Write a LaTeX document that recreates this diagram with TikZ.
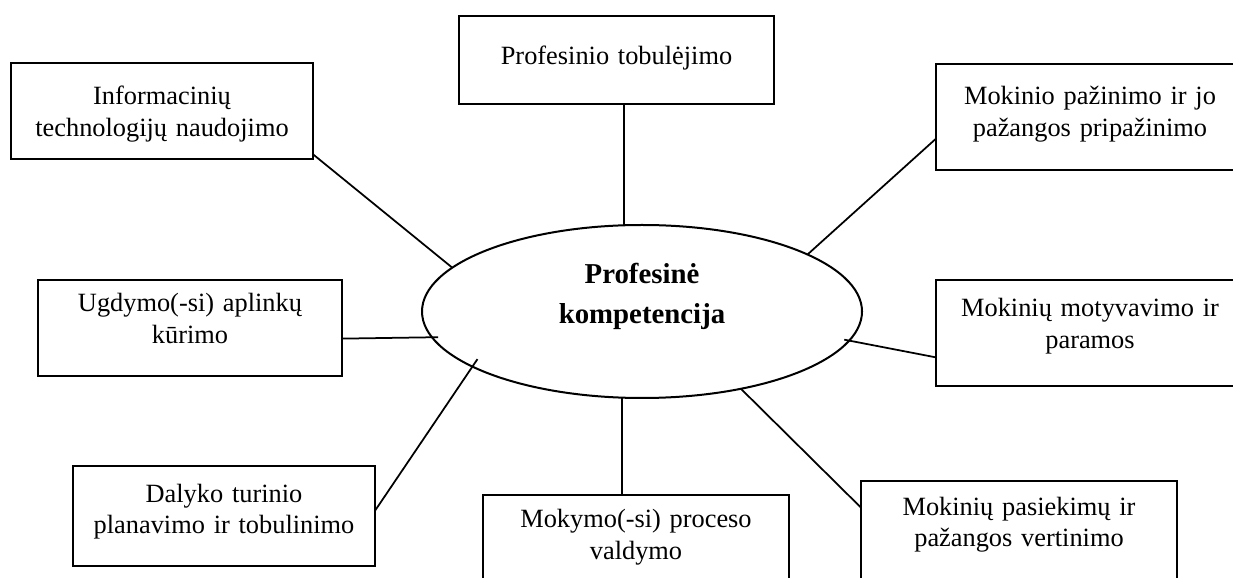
\documentclass[tikz,border=0pt]{standalone}
\usepackage{fontspec}
\setmainfont{Liberation Serif}
\usepackage{tikz}
\usetikzlibrary{shapes.geometric}

\tikzset{
  compbox/.style={rectangle,draw,line width=0.5mm,inner sep=0pt,outer sep=0pt,
    align=center,anchor=north west,font=\fontsize{15}{18.2}\selectfont},
  link/.style={line width=0.35mm},
}

\begin{document}
\begin{tikzpicture}
\useasboundingbox (0,0) rectangle (24.66,-11.56);

% centre
\node[ellipse,draw,line width=0.4mm,inner sep=0pt,outer sep=0pt,
  minimum width=8.8cm,minimum height=3.46cm,text width=4cm,align=center,
  text height=0.4cm,text depth=1.52cm,
  font=\fontsize{16.4}{22.8}\selectfont\bfseries] (core) at (12.84,-6.23)
  {Profesinė\\kompetencija};

% competence areas
\node[compbox,text width=6.3cm,text height=0.98cm,text depth=0.78cm] (prof) at (9.18,-0.32)
  {Profesinio tobulėjimo};
\node[compbox,text width=6.04cm,text height=0.84cm,text depth=1.08cm] (info) at (0.22,-1.26)
  {Informacinių\\technologijų naudojimo};
\node[compbox,text width=6.16cm,text height=0.82cm,text depth=1.3cm] (pazin) at (18.72,-1.28)
  {Mokinio pažinimo ir jo\\pažangos pripažinimo};
\node[compbox,text width=6.08cm,text height=0.64cm,text depth=1.28cm] (ugd) at (0.76,-5.6)
  {Ugdymo(-si) aplinkų\\kūrimo};
\node[compbox,text width=6.16cm,text height=0.74cm,text depth=1.38cm] (motyv) at (18.72,-5.6)
  {Mokinių motyvavimo ir\\paramos};
\node[compbox,text width=6.04cm,text height=0.72cm,text depth=1.28cm] (dal) at (1.46,-9.32)
  {Dalyko turinio\\planavimo ir tobulinimo};
\node[compbox,text width=6.12cm,text height=0.66cm,text depth=1.34cm] (mokym) at (9.66,-9.9)
  {Mokymo(-si) proceso\\valdymo};
\node[compbox,text width=6.32cm,text height=0.68cm,text depth=1.5cm] (pasiek) at (17.22,-9.62)
  {Mokinių pasiekimų ir\\pažangos vertinimo};

% links
\draw[link] (core.102 |- prof.south) -- (core.102);
\draw[link] (info.344.8) -- (core.167.7);
\draw[link] (pazin.188.1) -- (core.19.5);
\draw[link,shorten >=-1.2mm] (ugd.356.6) -- (core.187.1);
\draw[link,shorten >=-1mm] (motyv.189.6) -- (core.352.9);
\draw[link,shorten >=-1.8mm] (dal.2.3) -- (core.198.9);
\draw[link] (core.257) -- (core.257 |- mokym.north);
\draw[link] (pasiek.170.8) -- (core.322.6);
\end{tikzpicture}
\end{document}
